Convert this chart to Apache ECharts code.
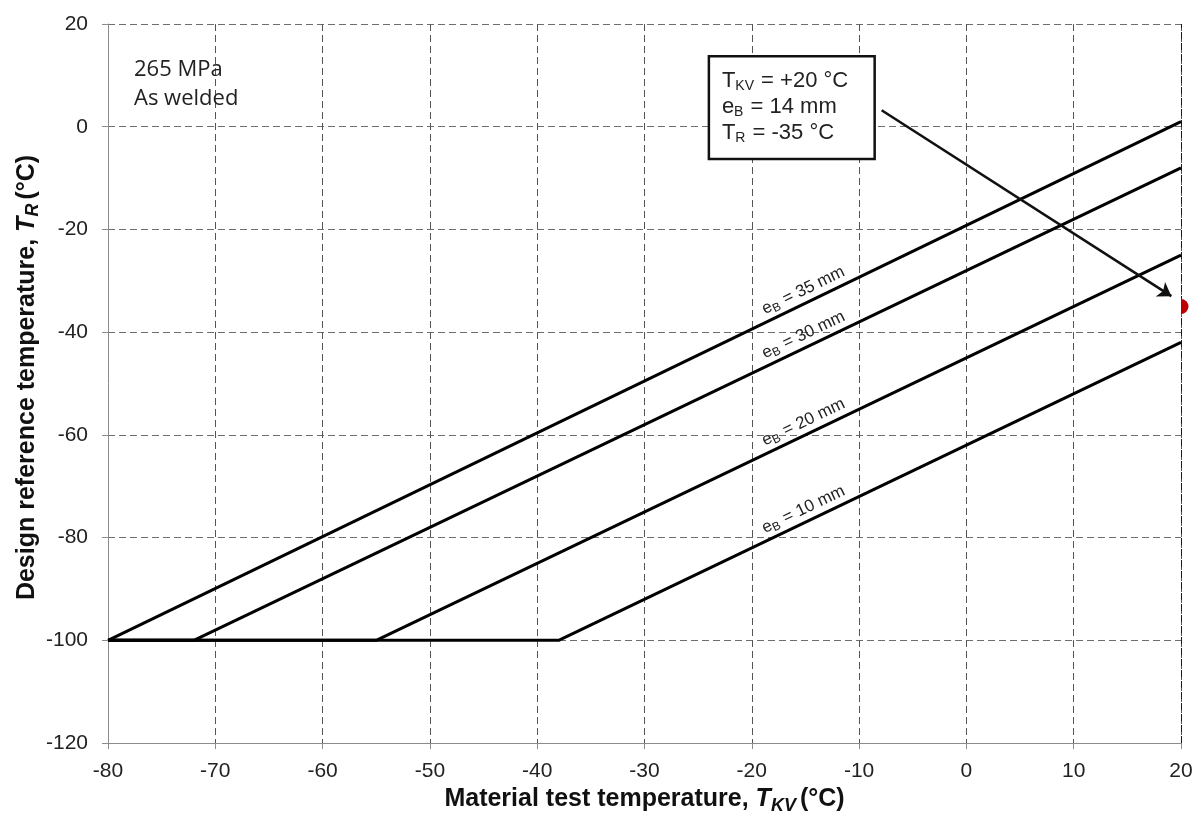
<!DOCTYPE html>
<html>
<head>
<meta charset="utf-8">
<script src="https://cdn.jsdelivr.net/npm/echarts@6/dist/echarts.min.js"></script>
<style>
  html, body { margin: 0; padding: 0; background: #ffffff; }
  #chart { width: 1198px; height: 820px; }
</style>
</head>
<body>
<div id="chart"></div>
<script>
// Design reference temperature T_R against material test temperature T_KV
// for a 265 MPa steel in the as-welded condition, one line per thickness e_B.
const thicknesses = ['35', '30', '20', '10'];   // e_B, mm
const plateauStartTKV = -80;                    // T_KV where the lower plateau begins
const plateauTR = -100;                         // lower plateau of T_R, °C
const kneeTKV = [-80, -72, -55, -38];           // T_KV where each line leaves the plateau, °C
const endTKV = 20;                              // last T_KV shown, °C
const endTR = [1, -8, -25, -42];                // T_R at T_KV = +20 °C

// Axis ranges and steps (tick labels follow from these)
const xMin = -80, xMax = 20, xStep = 10;
const yMin = -120, yMax = 20, yStep = 20;

// Worked example
const exampleTKV = 20;
const exampleEB = 14;
const exampleTR = -35;

// Caption
const captionLines = ['265 MPa', 'As welded'];

const FONT = '"Liberation Sans", Arial, Helvetica, sans-serif';

const chart = echarts.init(document.getElementById('chart'), null, { renderer: 'canvas' });

const lineSeries = thicknesses.map((t, i) => ({
  name: 'e_B = ' + t + ' mm',
  type: 'line',
  data: [[plateauStartTKV, plateauTR], [kneeTKV[i], plateauTR], [endTKV, endTR[i]]],
  symbol: 'none',
  lineStyle: { color: '#000000', width: 3 },
  z: 5,
  silent: true,
  animation: false
}));

// dashed right-hand edge of the plot, drawn darker
lineSeries[0].markLine = {
  silent: true,
  symbol: ['none', 'none'],
  label: { show: false },
  lineStyle: { color: '#1a1a1a', type: [7, 4], width: 1 },
  data: [{ xAxis: xMax }],
  animation: false
};

const titleRich = {
  b: { fontFamily: FONT, fontSize: 25, fontWeight: 'bold', color: '#111', fill: '#111' },
  i: { fontFamily: FONT, fontSize: 25, fontWeight: 'bold', fontStyle: 'italic', color: '#111', fill: '#111' },
  s: { fontFamily: FONT, fontSize: 18, fontWeight: 'bold', fontStyle: 'italic', color: '#111', fill: '#111', padding: [13, 4, 0, 0] }
};

const option = {
  animation: false,
  backgroundColor: '#ffffff',
  grid: { left: 108, right: 17, top: 24, bottom: 77, containLabel: false },
  xAxis: {
    type: 'value',
    min: xMin, max: xMax, interval: xStep,
    name: '{b|Material test temperature, }{i|T}{s|KV}{b|(°C)}',
    nameLocation: 'middle',
    nameGap: 40,
    nameTextStyle: { rich: titleRich },
    axisLine: { show: true, onZero: false, lineStyle: { color: '#8c8c8c', width: 1 } },
    axisTick: { show: true, inside: false, length: 6, lineStyle: { color: '#8c8c8c' } },
    axisLabel: { fontFamily: FONT, fontSize: 21, color: '#222', margin: 18 },
    splitLine: { show: true, lineStyle: { color: '#555555', type: [7, 4], width: 1 } }
  },
  yAxis: {
    type: 'value',
    min: yMin, max: yMax, interval: yStep,
    axisLine: { show: true, onZero: false, lineStyle: { color: '#8c8c8c', width: 1 } },
    axisTick: { show: true, inside: false, length: 6, lineStyle: { color: '#8c8c8c' } },
    axisLabel: { fontFamily: FONT, fontSize: 21, color: '#222', margin: 20 },
    splitLine: { show: true, lineStyle: { color: '#6e6e6e', type: [7, 4], width: 1 } }
  },
  series: [
    ...lineSeries,
    {
      // arrow from the example box to the design point
      type: 'lines',
      coordinateSystem: 'cartesian2d',
      polyline: false,
      symbol: ['none', 'arrow'],
      symbolSize: [0, 13],
      lineStyle: { color: '#111', width: 2.6, opacity: 1, curveness: 0 },
      data: [{ coords: [[-7.9, 3.2], [exampleTKV - 0.9, exampleTR + 2]] }],
      z: 6,
      silent: true,
      animation: false
    },
    {
      // design point on the right edge (only the half inside the page margin shows)
      type: 'custom',
      clip: false,
      silent: true,
      z: 7,
      data: [[exampleTKV, exampleTR]],
      renderItem: function (params, api) {
        const p = api.coord([api.value(0), api.value(1)]);
        return {
          type: 'sector',
          shape: { cx: p[0], cy: p[1], r: 7.5, r0: 0, startAngle: -Math.PI / 2, endAngle: Math.PI / 2, clockwise: true },
          style: { fill: '#c00000' }
        };
      },
      animation: false
    }
  ]
};

chart.setOption(option);

// ---- overlay texts positioned through the grid's own coordinate conversion ----
function px(x, y) { return chart.convertToPixel({ gridIndex: 0 }, [x, y]); }

const graphics = [];

// vertical axis title, rotated to read bottom-to-top
const yMid = (px(xMin, yMin)[1] + px(xMin, yMax)[1]) / 2;
graphics.push({
  type: 'text',
  x: 27, y: yMid - 6,
  rotation: Math.PI / 2,
  silent: true, z: 10,
  style: {
    text: '{b|Design reference temperature, }{i|T}{s|R}{b|(°C)}',
    align: 'center',
    verticalAlign: 'middle',
    rich: titleRich
  }
});

// thickness labels, set along each line near T_KV = -15 °C
const labelTKV = -15;
thicknesses.forEach((t, i) => {
  const k = kneeTKV[i];
  const slope = (endTR[i] - plateauTR) / (endTKV - k);
  const trAt = plateauTR + (labelTKV - k) * slope;
  const a = px(labelTKV, trAt);
  const b = px(labelTKV + 10, trAt + 10 * slope);
  const ang = Math.atan2(a[1] - b[1], b[0] - a[0]);   // screen angle, counter-clockwise
  const off = 14;
  const cx = a[0] - Math.sin(ang) * off + 4;
  const cy = a[1] - Math.cos(ang) * off;
  graphics.push({
    type: 'text',
    x: cx, y: cy,
    rotation: ang,
    silent: true,
    z: 10,
    style: {
      text: '{e|e}{s|B}{e| = ' + t + ' mm}',
      align: 'center',
      verticalAlign: 'middle',
      rich: {
        e: { fontFamily: FONT, fontSize: 17, fill: '#222' },
        s: { fontFamily: FONT, fontSize: 12, fill: '#222', padding: [8, 1, 0, 0] }
      }
    }
  });
});

// caption in the upper-left corner
const corner = px(xMin, yMax);
graphics.push({
  type: 'text',
  x: corner[0] + 26, y: corner[1] + 60,
  silent: true, z: 10,
  style: {
    text: captionLines.join('\n'),
    fontFamily: '"Open Sans", "Noto Sans", sans-serif',
    fontSize: 22,
    lineHeight: 29,
    fill: '#222',
    align: 'left',
    verticalAlign: 'middle'
  }
});

// example box
const boxTL = px(-24.0, 13.7);
const boxBR = px(-8.55, -6.3);
graphics.push({
  type: 'rect',
  silent: true, z: 10,
  shape: { x: boxTL[0], y: boxTL[1], width: boxBR[0] - boxTL[0], height: boxBR[1] - boxTL[1] },
  style: { fill: '#ffffff', stroke: '#111', lineWidth: 2.5 }
});
graphics.push({
  type: 'text',
  silent: true, z: 11,
  x: boxTL[0] + 13, y: boxTL[1] + 12,
  style: {
    text: '{m|T}{s|KV}{m| = +' + exampleTKV + ' °C}\n' +
          '{m|e}{s|B}{m| = ' + exampleEB + ' mm}\n' +
          '{m|T}{s|R}{m| = ' + exampleTR + ' °C}',
    align: 'left',
    verticalAlign: 'top',
    rich: {
      m: { fontFamily: FONT, fontSize: 22, fill: '#222', lineHeight: 26 },
      s: { fontFamily: FONT, fontSize: 14, fill: '#222', lineHeight: 26, padding: [10, 1, 0, 0] }
    }
  }
});

chart.setOption({ graphic: graphics });
</script>
</body>
</html>
